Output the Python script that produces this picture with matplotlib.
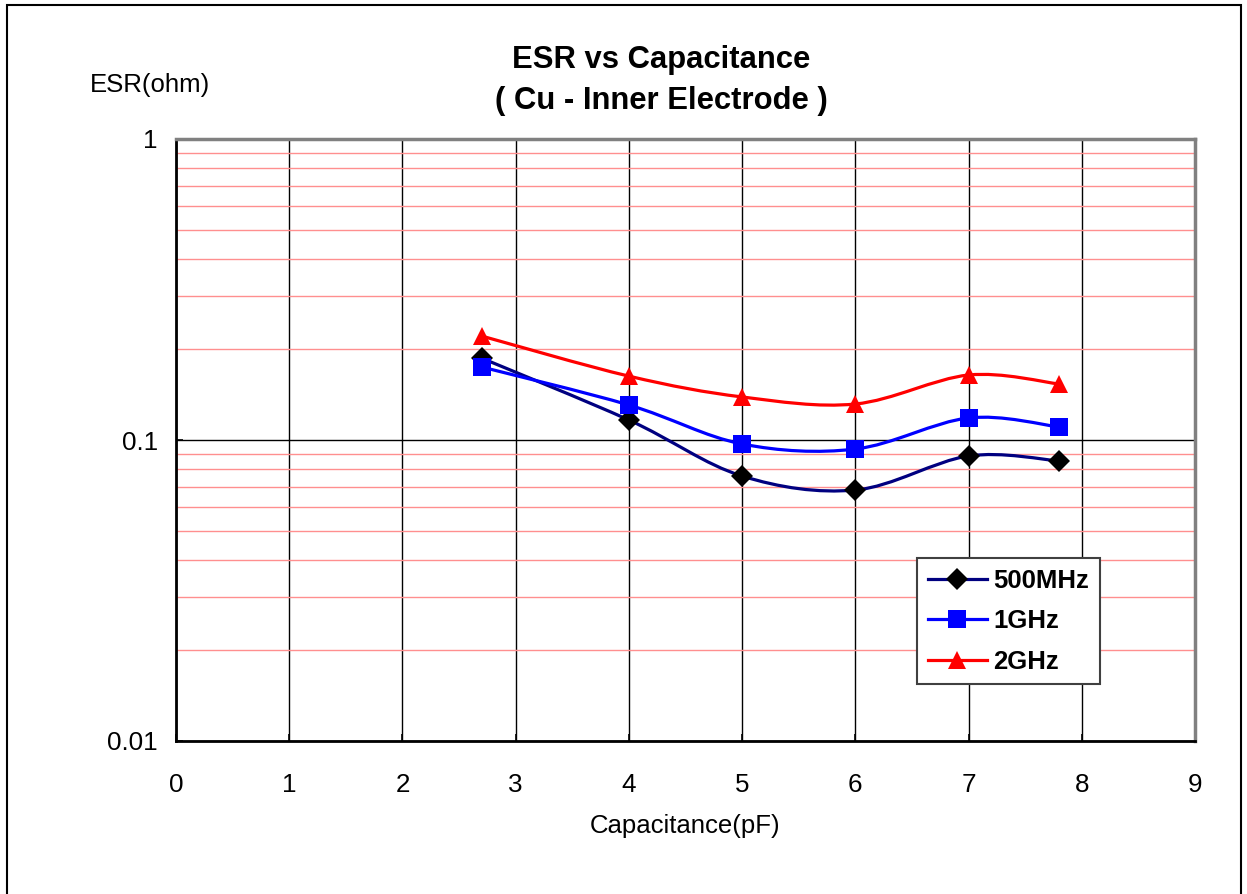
import numpy as np
import matplotlib
matplotlib.use("Agg")
import matplotlib.pyplot as plt
from matplotlib.path import Path
from matplotlib.patches import PathPatch, Rectangle
from matplotlib.lines import Line2D
from matplotlib.ticker import LogLocator, FixedLocator, FixedFormatter, NullFormatter

plt.rcParams['font.family'] = ['Liberation Sans', 'DejaVu Sans']

# ---- data ----
capacitance = [2.7, 4, 5, 6, 7, 7.8]
esr_500mhz = [0.187, 0.1165, 0.0759, 0.0682, 0.0885, 0.0852]
esr_1ghz = [0.1748, 0.1307, 0.0970, 0.0933, 0.1184, 0.1105]
esr_2ghz = [0.2215, 0.1630, 0.1390, 0.1317, 0.1644, 0.1535]
series_labels = ["500MHz", "1GHz", "2GHz"]
x_ticks = [0, 1, 2, 3, 4, 5, 6, 7, 8, 9]
y_ticks = [0.01, 0.1, 1]
y_tick_labels = ["0.01", "0.1", "1"]

W, H = 1247, 894
fig = plt.figure(figsize=(W / 100, H / 100), dpi=100)
ax = fig.add_axes([176 / W, 1 - 741 / H, (1195 - 176) / W, (741 - 139) / H])

ax.set_yscale('log')
ax.set_xlim(0, 9)
ax.set_ylim(0.01, 1)


def smooth_path(xs, ys):
    # Bezier (Catmull-Rom style) smoothing in display (log) space, like Excel's smoothed lines
    lx = np.asarray(xs, float)
    ly = np.log10(np.asarray(ys, float))
    n = len(lx)
    verts = [(lx[0], ly[0])]
    codes = [Path.MOVETO]
    for i in range(n - 1):
        p0 = np.array([lx[max(i - 1, 0)], ly[max(i - 1, 0)]])
        p1 = np.array([lx[i], ly[i]])
        p2 = np.array([lx[i + 1], ly[i + 1]])
        p3 = np.array([lx[min(i + 2, n - 1)], ly[min(i + 2, n - 1)]])
        c1 = p1 + (p2 - p0) / 6.0
        c2 = p2 - (p3 - p1) / 6.0
        verts += [tuple(c1), tuple(c2), tuple(p2)]
        codes += [Path.CURVE4] * 3
    verts = [(vx, 10 ** vy) for vx, vy in verts]
    return Path(verts, codes)


styles = [
    dict(line='#000080', mk='D', mc='black', ms=11),
    dict(line='#0000ff', mk='s', mc='#0000ff', ms=12.5),
    dict(line='#ff0000', mk='^', mc='#ff0000', ms=13.5),
]
handles = []
for ys, lab, st in zip([esr_500mhz, esr_1ghz, esr_2ghz], series_labels, styles):
    patch = PathPatch(smooth_path(capacitance, ys), fill=False, edgecolor=st['line'],
                      lw=2.3, zorder=3, transform=ax.transData)
    ax.add_patch(patch)
    ax.plot(capacitance, ys, linestyle='none', marker=st['mk'], color=st['mc'],
            markersize=st['ms'], markeredgewidth=0, zorder=4, clip_on=False)
    handles.append(Line2D([], [], color=st['line'], lw=2.3, marker=st['mk'],
                          markerfacecolor=st['mc'], markeredgewidth=0,
                          markersize=st['ms'], label=lab))

# grid
ax.yaxis.set_major_locator(FixedLocator(y_ticks))
ax.yaxis.set_major_formatter(FixedFormatter(y_tick_labels))
ax.yaxis.set_minor_locator(LogLocator(base=10, subs=np.arange(2, 10)))
ax.yaxis.set_minor_formatter(NullFormatter())
ax.set_xticks(x_ticks)
ax.grid(which='major', axis='both', color='black', lw=1.0, zorder=1)
ax.grid(which='minor', axis='y', color='#ff8f8f', lw=1.0, zorder=1)
ax.set_axisbelow(True)

ax.tick_params(axis='both', which='major', labelsize=18.7, direction='in', length=5,
               width=1.2, color='black')
ax.tick_params(axis='x', which='major', pad=23)
ax.tick_params(axis='y', which='major', pad=13)
ax.tick_params(axis='y', which='minor', length=0)

for s in ['top', 'right']:
    ax.spines[s].set_color('#808080')
    ax.spines[s].set_linewidth(2.5)
for s in ['left', 'bottom']:
    ax.spines[s].set_color('black')
    ax.spines[s].set_linewidth(2.0)

# texts
fig.text(661 / W, 1 - 60 / H, "ESR vs Capacitance", ha='center', va='center',
         fontsize=22.3, fontweight='bold')
fig.text(661 / W, 1 - 101 / H, "( Cu - Inner Electrode )", ha='center', va='center',
         fontsize=22.3, fontweight='bold')
fig.text(150 / W, 1 - 85 / H, "ESR(ohm)", ha='center', va='center', fontsize=18.5)
fig.text(685 / W, 1 - 826 / H, "Capacitance(pF)", ha='center', va='center', fontsize=18.5)

leg = ax.legend(handles=handles, loc='upper left',
                bbox_to_anchor=(917 / W, 1 - 558 / H), bbox_transform=fig.transFigure,
                prop={'weight': 'bold', 'size': 18.5}, frameon=True, fancybox=False,
                edgecolor='#404040', framealpha=1, handlelength=2.3, handletextpad=0.25,
                labelspacing=0.64, borderpad=0.42, borderaxespad=0)
leg.get_frame().set_linewidth(1.5)
leg.set_zorder(10)

# outer chart border
fig.patches.append(Rectangle((7 / W, -0.02), (1241 - 7) / W, (H - 5) / H + 0.02,
                             transform=fig.transFigure, fill=False, edgecolor='black',
                             lw=1.5, zorder=0))

fig.savefig("out.png", dpi=100)
